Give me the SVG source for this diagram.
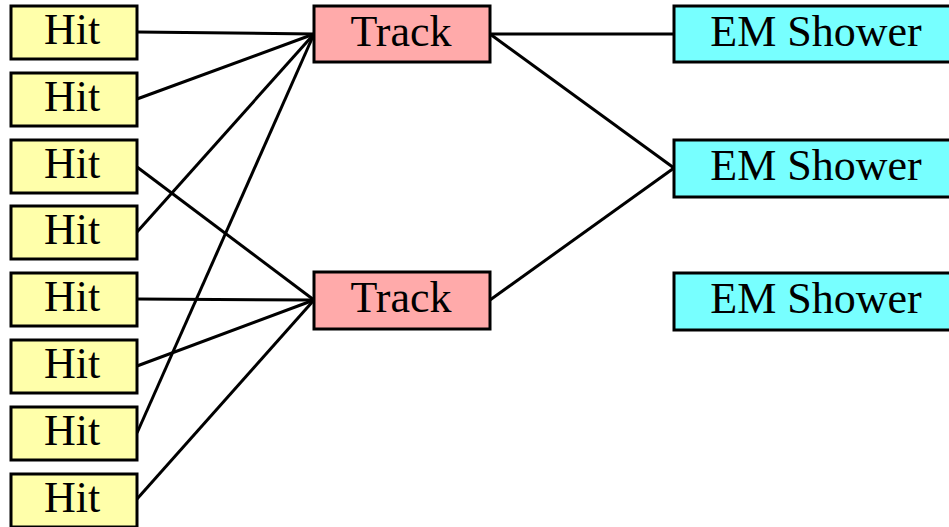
<svg xmlns="http://www.w3.org/2000/svg" width="949" height="527" viewBox="0 0 949 527">
<style>
rect{stroke:#000;stroke-width:3}
.hit rect{fill:#FFFFAA}
.trk rect{fill:#FFAAAA}
.em rect{fill:#77FFFF}
text{font-family:"Liberation Serif","Times New Roman",serif;font-size:44px;fill:#000;text-anchor:middle}
#connectors line{stroke:#000;stroke-width:3}
</style>
<rect width="949" height="527" fill="#fff" style="stroke:none"/>
<g id="connectors">
<line x1="137" y1="32" x2="314" y2="34"/>
<line x1="137" y1="99" x2="314" y2="34"/>
<line x1="137" y1="232" x2="314" y2="34"/>
<line x1="137" y1="433" x2="314" y2="34"/>
<line x1="137" y1="167" x2="314" y2="300"/>
<line x1="137" y1="299" x2="314" y2="300"/>
<line x1="137" y1="366" x2="314" y2="300"/>
<line x1="137" y1="499" x2="314" y2="300"/>
<line x1="490" y1="34" x2="674" y2="34"/>
<line x1="490" y1="34" x2="674" y2="168"/>
<line x1="490" y1="300" x2="674" y2="168"/>
</g>
<g id="hit1" class="hit"><rect x="11" y="6" width="126" height="53"/><text x="72" y="44">Hit</text></g>
<g id="hit2" class="hit"><rect x="11" y="73" width="126" height="53"/><text x="72" y="111">Hit</text></g>
<g id="hit3" class="hit"><rect x="11" y="140" width="126" height="53"/><text x="72" y="178">Hit</text></g>
<g id="hit4" class="hit"><rect x="11" y="206" width="126" height="53"/><text x="72" y="244">Hit</text></g>
<g id="hit5" class="hit"><rect x="11" y="273" width="126" height="53"/><text x="72" y="311">Hit</text></g>
<g id="hit6" class="hit"><rect x="11" y="340" width="126" height="53"/><text x="72" y="378">Hit</text></g>
<g id="hit7" class="hit"><rect x="11" y="407" width="126" height="53"/><text x="72" y="445">Hit</text></g>
<g id="hit8" class="hit"><rect x="11" y="474" width="126" height="53"/><text x="72" y="512">Hit</text></g>
<g id="track1" class="trk"><rect x="314" y="6" width="176" height="56"/><text x="401" y="46">Track</text></g>
<g id="track2" class="trk"><rect x="314" y="272" width="176" height="57"/><text x="401" y="312">Track</text></g>
<g id="em1" class="em"><rect x="674" y="6" width="286" height="56"/><text x="816" y="46">EM Shower</text></g>
<g id="em2" class="em"><rect x="674" y="140" width="286" height="57"/><text x="816" y="180">EM Shower</text></g>
<g id="em3" class="em"><rect x="674" y="273" width="286" height="57"/><text x="816" y="313">EM Shower</text></g>
</svg>
